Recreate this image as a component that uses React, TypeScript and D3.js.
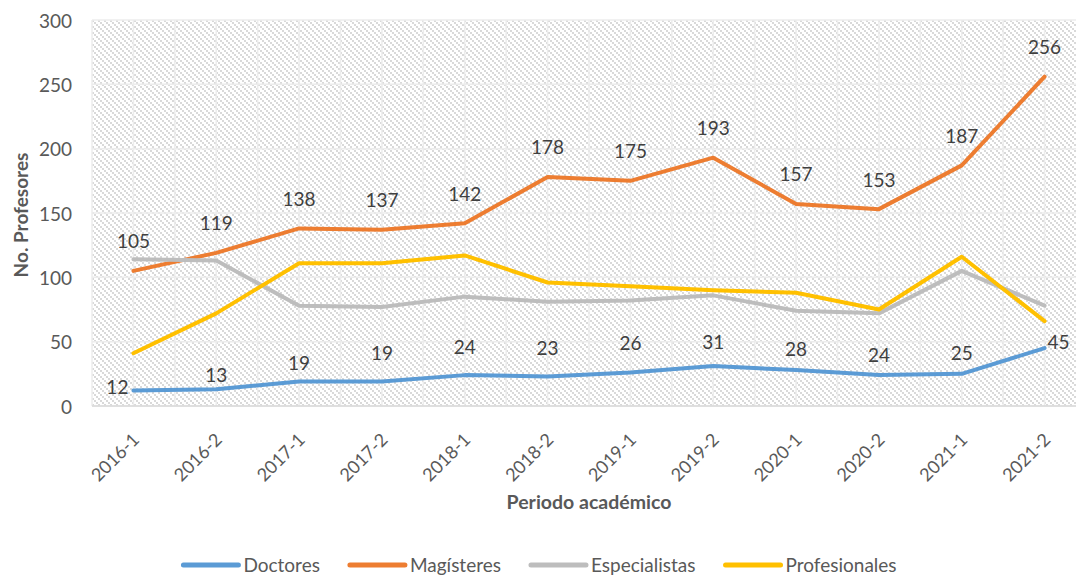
import React, { useLayoutEffect, useRef, useState } from 'react';
import * as d3 from 'd3';

const periods = ['2016-1', '2016-2', '2017-1', '2017-2', '2018-1', '2018-2', '2019-1', '2019-2', '2020-1', '2020-2', '2021-1', '2021-2'];
const doctores = [12, 13, 19, 19, 24, 23, 26, 31, 28, 24, 25, 45];
const magisteres = [105, 119, 138, 137, 142, 178, 175, 193, 157, 153, 187, 256];
const especialistas = [114, 113, 78, 77, 85, 81, 82, 86, 74, 72, 105, 78];
const profesionales = [41, 72, 111, 111, 117, 96, 93, 90, 88, 75, 116, 66];
const yTicks = [0, 50, 100, 150, 200, 250, 300];

const seriesNames = ['Doctores', 'Magísteres', 'Especialistas', 'Profesionales'];
const seriesValues = [doctores, magisteres, especialistas, profesionales];
const seriesColors = ['#5B9BD5', '#ED7D31', '#BDBDBD', '#FFC000'];

// label placement for the Doctores series (excel labels were dragged around)
const doctoresLabelShift: [number, number][] = [
  [-5, -4], [0, -15], [0, -19], [0, -29], [0, -29], [0, -29],
  [0, -30], [0, -25], [0, -21], [0, -21], [0, -21], [3, -7],
];

const W = 1076;
const H = 576;
const plot = { left: 92, right: 1086, top: 20, bottom: 406 };
const font = 'Lato, "Open Sans", sans-serif';

export default function App() {
  const legendRef = useRef<SVGGElement>(null);
  const [legendX, setLegendX] = useState<number[]>([183, 352, 538, 737]);

  const x = d3.scalePoint<string>().domain(periods).range([plot.left, plot.right]).padding(0.5);
  const y = d3.scaleLinear().domain([0, 300]).range([plot.bottom, plot.top]);
  const step = x.step();

  const line = d3.line<number>()
    .x((_, i) => x(periods[i]) as number)
    .y(d => y(d));

  useLayoutEffect(() => {
    if (!legendRef.current) return;
    const texts = Array.from(legendRef.current.querySelectorAll('text')) as SVGTextElement[];
    const widths = texts.map(t => t.getComputedTextLength());
    const lineLen = 55, gap = 5, between = 30;
    const total = d3.sum(widths) + widths.length * (lineLen + gap) + (widths.length - 1) * between;
    let cur = W / 2 + 2 - total / 2;
    const xs: number[] = [];
    widths.forEach(w => {
      xs.push(cur);
      cur += lineLen + gap + w + between;
    });
    setLegendX(xs);
  }, []);

  const vGrid: number[] = d3.range(0, periods.length * 2 + 1).map(i => plot.left + i * step / 2);

  return (
    <svg width={W} height={H} style={{ position: 'absolute', left: 0, top: 0, background: '#fff' }} fontFamily={font}>
      <defs>
        <pattern id="hatch" patternUnits="userSpaceOnUse" width={6} height={6}>
          <rect width={6} height={6} fill="#ffffff" />
          <rect x={0} y={0} width={2} height={2} fill="#d9d9d9" />
          <rect x={2} y={2} width={2} height={2} fill="#d9d9d9" />
          <rect x={4} y={4} width={2} height={2} fill="#d9d9d9" />
        </pattern>
      </defs>

      <rect x={plot.left} y={plot.top} width={plot.right - plot.left} height={plot.bottom - plot.top} fill="url(#hatch)" />

      {vGrid.map((gx, i) => (
        <line key={'v' + i} x1={gx} x2={gx} y1={plot.top} y2={plot.bottom} stroke="#ececec" strokeWidth={1.5} />
      ))}
      {yTicks.map(t => (
        <line key={'h' + t} x1={plot.left} x2={plot.right} y1={y(t)} y2={y(t)} stroke="#ececec" strokeWidth={1.5} />
      ))}
      <line x1={plot.left} x2={plot.right} y1={y(0)} y2={y(0)} stroke="#d9d9d9" strokeWidth={1.5} />

      {yTicks.map(t => (
        <text key={'yt' + t} x={72} y={y(t)} textAnchor="end" dominantBaseline="central" fontSize={19} fill="#595959">{t}</text>
      ))}

      {periods.map(p => (
        <text key={'xt' + p} transform={`translate(${(x(p) as number) + 2},436) rotate(-45)`} textAnchor="end" dominantBaseline="central" fontSize={18} fill="#595959">{p}</text>
      ))}

      {seriesValues.map((vals, si) => (
        <path key={'s' + si} d={line(vals) as string} fill="none" stroke={seriesColors[si]} strokeWidth={4} strokeLinejoin="round" strokeLinecap="round" />
      ))}

      {doctores.map((v, i) => {
        const [dx, dy] = doctoresLabelShift[i];
        const anchor = dx < 0 ? 'end' : dx > 0 ? 'start' : 'middle';
        return (
          <text key={'ld' + i} x={(x(periods[i]) as number) + dx} y={y(v) + dy} textAnchor={anchor} dominantBaseline="central" fontSize={19} fill="#404040">{v}</text>
        );
      })}
      {magisteres.map((v, i) => (
        <text key={'lm' + i} x={x(periods[i]) as number} y={y(v) - 30} textAnchor="middle" dominantBaseline="central" fontSize={19} fill="#404040">{v}</text>
      ))}

      <text transform={`translate(20,${(plot.top + plot.bottom) / 2 + 2}) rotate(-90)`} textAnchor="middle" dominantBaseline="central" fontSize={19} fontWeight="bold" fill="#595959">No. Profesores</text>
      <text x={(plot.left + plot.right) / 2} y={501} textAnchor="middle" dominantBaseline="central" fontSize={19.5} fontWeight="bold" fill="#595959">Periodo académico</text>

      <g ref={legendRef}>
        {seriesNames.map((n, i) => (
          <g key={'lg' + i}>
            <line x1={legendX[i]} x2={legendX[i] + 55} y1={565} y2={565} stroke={seriesColors[i]} strokeWidth={5} strokeLinecap="round" />
            <text x={legendX[i] + 60} y={564} dominantBaseline="central" fontSize={19} fill="#595959">{n}</text>
          </g>
        ))}
      </g>
    </svg>
  );
}
